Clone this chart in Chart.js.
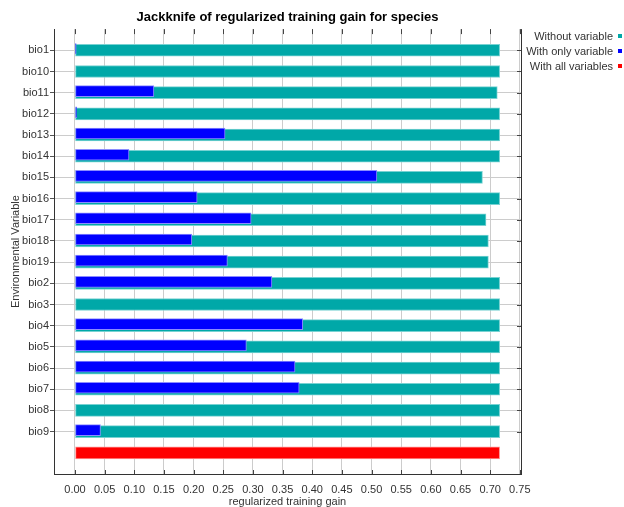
<!DOCTYPE html>
<html>
<head>
<meta charset="utf-8">
<script src="https://cdn.jsdelivr.net/npm/chart.js@4/dist/chart.umd.min.js"></script>
<style>
  html, body { margin: 0; padding: 0; background: #fff; }
  #wrap { width: 624px; height: 507px; }
</style>
</head>
<body>
<div id="wrap"><canvas id="chart" width="624" height="507"></canvas></div>
<script>
// Environmental variables, in the order Maxent lists them
const variables = ['bio1', 'bio10', 'bio11', 'bio12', 'bio13', 'bio14', 'bio15', 'bio16', 'bio17',
  'bio18', 'bio19', 'bio2', 'bio3', 'bio4', 'bio5', 'bio6', 'bio7', 'bio8', 'bio9'];

// Regularized training gain of the model built without each variable
const withoutVariable = [0.716, 0.716, 0.712, 0.716, 0.716, 0.716, 0.687, 0.716, 0.693,
  0.697, 0.697, 0.716, 0.716, 0.716, 0.716, 0.716, 0.716, 0.716, 0.716];

// Regularized training gain of the model built with only each variable
const withOnlyVariable = [0.002, 0.000, 0.133, 0.003, 0.253, 0.091, 0.509, 0.206, 0.297,
  0.197, 0.257, 0.332, 0.000, 0.384, 0.289, 0.371, 0.378, 0.000, 0.043];

// Gain of the full model
const withAllVariables = [0.716];

// Gain axis tick values
const gainTicks = [0.00, 0.05, 0.10, 0.15, 0.20, 0.25, 0.30, 0.35, 0.40, 0.45, 0.50, 0.55, 0.60, 0.65, 0.70, 0.75];

const FONT = "'Liberation Sans', Arial, Helvetica, sans-serif";
const TEAL = 'rgb(0,168,168)';
const BLUE = 'rgb(0,0,255)';
const RED = 'rgb(255,0,0)';

// Rows: an empty slot above, one row per variable, the unlabelled full-model row, an empty slot below
const rowLabels = ['', ...variables, '', ''];
const pad = (arr) => [null, ...arr, null, null];
const allRow = rowLabels.map((_, i) => (i === variables.length + 1 ? withAllVariables[0] : null));

const TRANSPARENT = 'rgba(0,0,0,0)';

// Frame pieces, inward ticks and the side legend
const framePlugin = {
  id: 'frame',
  beforeDatasetDraw(chart, args) {
    if (args.index === 1) {
      chart.ctx.save();
      chart.ctx.translate(0, -1.5);
    }
  },
  afterDatasetDraw(chart, args) {
    if (args.index === 1) chart.ctx.restore();
  },
  afterDatasetsDraw(chart) {
    const { ctx, chartArea: a, scales } = chart;
    ctx.save();
    ctx.strokeStyle = '#333';
    ctx.lineWidth = 1;
    // right edge
    ctx.beginPath();
    ctx.moveTo(Math.round(a.right) + 0.5, a.top);
    ctx.lineTo(Math.round(a.right) + 0.5, a.bottom);
    ctx.stroke();
    // inward ticks on top and bottom
    ctx.strokeStyle = '#444';
    gainTicks.forEach((v) => {
      const x = Math.round(scales.x.getPixelForValue(v)) + 0.5;
      ctx.beginPath();
      ctx.moveTo(x, a.top);
      ctx.lineTo(x, a.top + 5);
      ctx.moveTo(x, a.bottom);
      ctx.lineTo(x, a.bottom - 4);
      ctx.stroke();
    });
    // inward ticks on the right edge
    rowLabels.forEach((lab, i) => {
      if (!lab) return;
      const y = Math.round(scales.y.getPixelForValue(i)) + 0.5;
      ctx.beginPath();
      ctx.moveTo(a.right, y);
      ctx.lineTo(a.right - 4, y);
      ctx.stroke();
    });
    ctx.restore();
  },
  afterDraw(chart) {
    const { ctx } = chart;
    ctx.save();
    ctx.font = '11px ' + FONT;
    ctx.textAlign = 'right';
    ctx.textBaseline = 'middle';
    chart.data.datasets.forEach((ds, i) => {
      const y = 37 + i * 15;
      ctx.fillStyle = '#333';
      ctx.fillText(ds.label, 613, y);
      ctx.fillStyle = ds.backgroundColor;
      ctx.fillRect(618, y - 3, 4, 4);
    });
    ctx.restore();
  }
};

Chart.defaults.font.family = FONT;

new Chart(document.getElementById('chart'), {
  type: 'bar',
  data: {
    labels: rowLabels,
    datasets: [
      {
        label: 'Without variable',
        data: pad(withoutVariable),
        backgroundColor: TEAL,
        borderColor: 'rgb(120,210,210)',
        borderWidth: 1,
        borderSkipped: false,
        barThickness: 12,
        grouped: false,
        order: 2
      },
      {
        label: 'With only variable',
        data: pad(withOnlyVariable),
        backgroundColor: BLUE,
        borderColor: 'rgb(140,140,255)',
        borderWidth: 1,
        borderSkipped: false,
        barThickness: 11,
        grouped: false,
        order: 1
      },
      {
        label: 'With all variables',
        data: allRow,
        backgroundColor: RED,
        borderColor: 'rgb(255,150,150)',
        borderWidth: 1,
        borderSkipped: false,
        barThickness: 12,
        grouped: false,
        order: 0
      }
    ]
  },
  options: {
    indexAxis: 'y',
    responsive: false,
    animation: false,
    devicePixelRatio: 1,
    layout: { padding: { left: 0, right: 103, top: 0, bottom: 0 } },
    plugins: {
      legend: { display: false },
      tooltip: { enabled: false },
      title: {
        display: true,
        fullSize: false,
        text: 'Jackknife of regularized training gain for species',
        color: '#000',
        font: { size: 13, weight: 'bold', family: FONT },
        padding: { top: 10, bottom: 3.5 }
      }
    },
    scales: {
      x: {
        type: 'linear',
        min: -0.0354,
        max: 0.752,
        afterBuildTicks: (s) => { s.ticks = gainTicks.map((v) => ({ value: v })); },
        afterFit: (s) => { s.height = 33; },
        grid: { color: '#cccccc', lineWidth: 1, drawTicks: false },
        border: { display: true, color: '#333', width: 1 },
        ticks: {
          padding: 9,
          color: '#333',
          autoSkip: false,
          maxRotation: 0,
          font: { size: 11, family: FONT },
          callback: (v) => Number(v).toFixed(2)
        },
        title: {
          display: true,
          text: 'regularized training gain',
          color: '#333',
          font: { size: 11, family: FONT },
          padding: { top: 0, bottom: -2 }
        }
      },
      y: {
        type: 'category',
        offset: false,
        afterFit: (s) => { s.width = 54; },
        grid: {
          offset: false,
          lineWidth: 1,
          tickLength: 4,
          color: (c) => (rowLabels[c.index] ? '#cccccc' : TRANSPARENT),
          tickColor: (c) => (rowLabels[c.index] ? '#555' : TRANSPARENT)
        },
        border: { display: true, color: '#333', width: 1 },
        ticks: {
          padding: 1,
          color: '#333',
          autoSkip: false,
          font: { size: 11, family: FONT }
        },
        title: {
          display: true,
          text: 'Environmental Variable',
          color: '#333',
          font: { size: 11, family: FONT },
          padding: { top: 9, bottom: 0 }
        }
      }
    }
  },
  plugins: [framePlugin]
});
</script>
</body>
</html>
